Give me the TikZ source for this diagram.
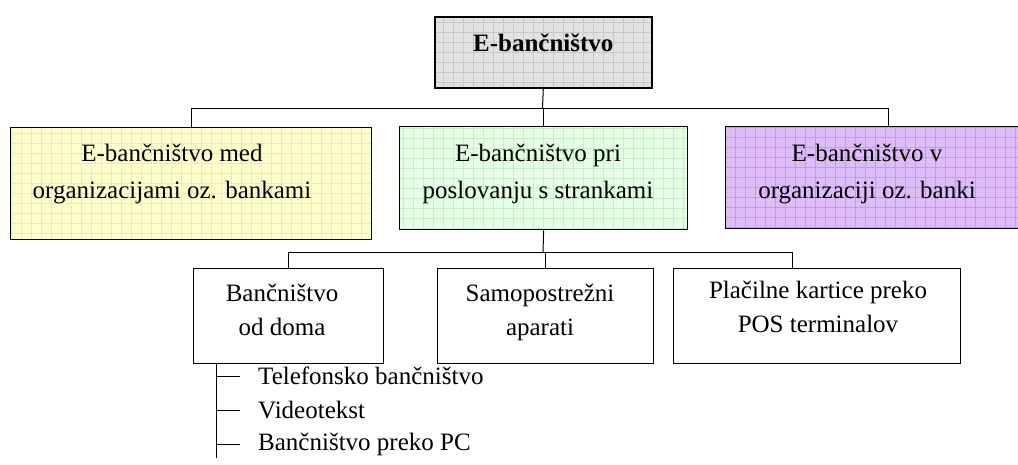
\documentclass[tikz,border=0pt]{standalone}
\usepackage{fontspec}
\setmainfont{Liberation Serif}
\definecolor{topfill}{RGB}{226,226,226}
\definecolor{topgrid}{RGB}{200,200,200}
\definecolor{yelfill}{RGB}{255,255,204}
\definecolor{yelgrid}{RGB}{242,236,160}
\definecolor{grnfill}{RGB}{230,255,230}
\definecolor{grngrid}{RGB}{200,238,200}
\definecolor{purfill}{RGB}{222,188,250}
\definecolor{purgrid}{RGB}{198,152,240}
\begin{document}
\begin{tikzpicture}[x=1pt,y=-1pt,
  box/.style={draw, line width=1.3pt, inner sep=0pt, anchor=north west},
  gridfill/.style 2 args={fill=#1, path picture={\draw[#2, line width=0.6pt, step=10pt]
      ([shift={(-20pt,-20pt)}]path picture bounding box.south west) grid
      ([shift={(20pt,20pt)}]path picture bounding box.north east);}},
  conn/.style={line width=1pt},
  txt/.style={font=\fontsize{25}{37}\selectfont, align=center, inner sep=0pt},
  subtxt/.style={font=\fontsize{25}{34}\selectfont, align=center, inner sep=0pt, anchor=north},
  item/.style={font=\fontsize{25}{30}\selectfont, anchor=west, inner sep=0pt}]

\fill[white] (0,0) rectangle (1018,464);
\useasboundingbox (0,0) rectangle (1018,464);

% root
\node[box, line width=1.6pt, gridfill={topfill}{topgrid}, minimum width=217pt, minimum height=71pt] (top) at (434,16) {};
\node[txt, font=\fontsize{25}{35}\selectfont\bfseries] (toptxt) at (top.center |- 0,43) {E-bančništvo};

% first level
\node[box, gridfill={yelfill}{yelgrid}, minimum width=361pt, minimum height=112pt] (yel) at (10,127) {};
\node[box, gridfill={grnfill}{grngrid}, minimum width=288pt, minimum height=103pt] (grn) at (399,126) {};
\node[box, gridfill={purfill}{purgrid}, minimum width=300pt, minimum height=102pt] (pur) at (725,126) {};

\node[txt] (yeltxt) at (172,174) {E-bančništvo med\\organizacijami oz. bankami};
\node[txt] (grntxt) at (538,174) {E-bančništvo pri\\poslovanju s strankami};
\node[txt] (purtxt) at (867,174) {E-bančništvo v\\organizaciji oz. banki};

% second level
\node[box, minimum width=190pt, minimum height=95pt] (bd) at (193,268) {};
\node[box, minimum width=216pt, minimum height=95pt] (sa) at (437,268) {};
\node[box, minimum width=287pt, minimum height=95pt] (pk) at (673,268) {};

\node[subtxt] (bdtxt) at (282,284) {Bančništvo\\od doma};
\node[subtxt] (satxt) at (540,284) {Samopostrežni\\aparati};
\node[subtxt] (pktxt) at (818,281) {Plačilne kartice preko\\POS terminalov};

% connectors, first level
\coordinate (bus1) at (542.5,108);
\coordinate (bus1R) at (888,108);
\draw[conn] (top.south) -- (bus1);
\draw[conn] (yel.north) -- (yel.north |- bus1) -- (bus1R) -- (pur.north -| bus1R);
\draw[conn] (grn.north) -- (grn.north |- bus1);

% connectors, second level
\coordinate (bus2) at (543,252);
\coordinate (bus2R) at (792,252);
\draw[conn] (grn.south) -- (bus2);
\draw[conn] (bd.north) -- (bd.north |- bus2) -- (bus2R) -- (pk.north -| bus2R);
\draw[conn] (sa.north) -- (sa.north |- bus2);

% list under "Bančništvo od doma"
\coordinate (lst) at (216,458);
\node[item] (i1) at (258,376) {Telefonsko bančništvo};
\node[item] (i2) at (258,410) {Videotekst};
\node[item] (i3) at (258,444) {Bančništvo preko PC};
\draw[conn] (bd.south -| lst) -- (lst);
\foreach \i in {i1,i2,i3}
  \draw[conn] (lst |- \i.west) -- ([xshift=-18pt]\i.west);
\end{tikzpicture}
\end{document}
